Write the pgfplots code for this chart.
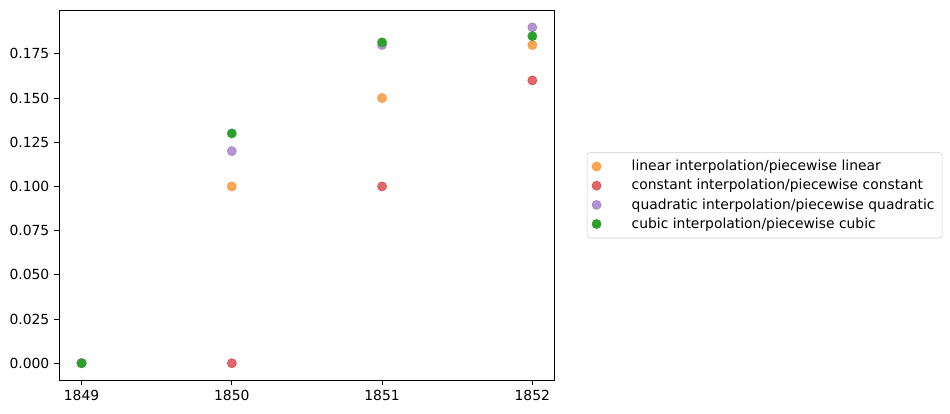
\documentclass[border=0pt]{standalone}
\usepackage{fontspec}
\setmainfont{DejaVu Sans}
\usepackage{pgfplots}
\pgfplotsset{compat=1.18}

\definecolor{mplorange}{HTML}{FF7F0E}
\definecolor{mplred}{HTML}{D62728}
\definecolor{mplpurple}{HTML}{9467BD}
\definecolor{mplgreen}{HTML}{2CA02C}

\begin{document}
\begin{tikzpicture}
  \begin{axis}[
      scale only axis,
      width=357pt, height=266pt,
      xmin=1848.85, xmax=1852.15,
      ymin=-0.0095, ymax=0.1995,
      xtick={1849,1850,1851,1852},
      ytick={0,0.025,...,0.176},
      xticklabel style={/pgf/number format/1000 sep={}},
      yticklabel style={/pgf/number format/fixed, /pgf/number format/fixed zerofill,
                        /pgf/number format/precision=3},
      /pgf/number format/assume math mode=true,
      tick label style={font=\fontsize{10}{12}\selectfont},
      tick align=outside, tick pos=left,
      major tick length=3.5pt,
      every tick/.style={black, line width=0.6pt},
      axis line style={line width=0.6pt},
      legend style={at={(1.0645,0.5)}, anchor=west, draw=black!20,
                    rounded corners=2pt, font=\fontsize{10}{12}\selectfont,
                    row sep=0.7pt, inner sep=3.5pt,
                    /tikz/every odd column/.append style={column sep=20pt},
                    cells={anchor=west}},
      legend image code/.code={\draw[#1] plot coordinates {(0.45cm,0cm)};},
      legend cell align=left,
      mark size=3.3pt,
    ]
    \addplot[only marks, mark=*, draw=mplorange, fill=mplorange, opacity=0.7]
      coordinates {(1849,0) (1850,0.10) (1851,0.15) (1852,0.18)};
    \addlegendentry{linear interpolation/piecewise linear}
    \addplot[only marks, mark=*, draw=mplred, fill=mplred, opacity=0.7]
      coordinates {(1849,0) (1850,0) (1851,0.10) (1852,0.16)};
    \addlegendentry{constant interpolation/piecewise constant}
    \addplot[only marks, mark=*, draw=mplpurple, fill=mplpurple, opacity=0.7]
      coordinates {(1849,0) (1850,0.12) (1851,0.18) (1852,0.19)};
    \addlegendentry{quadratic interpolation/piecewise quadratic}
    \addplot[only marks, mark=*, draw=mplgreen, fill=mplgreen]
      coordinates {(1849,0) (1850,0.13) (1851,0.1815) (1852,0.185)};
    \addlegendentry{cubic interpolation/piecewise cubic}
  \end{axis}
  \path[use as bounding box] (-42.5pt,-23.8pt) rectangle (641.5pt,273.6pt);
\end{tikzpicture}
\end{document}
